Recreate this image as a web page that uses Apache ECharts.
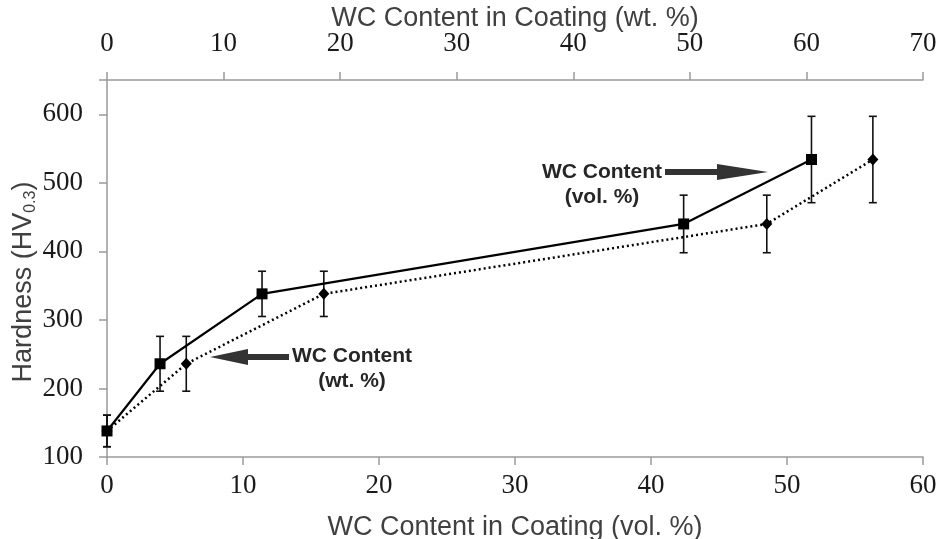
<!DOCTYPE html>
<html>
<head>
<meta charset="utf-8">
<script src="https://cdn.jsdelivr.net/npm/echarts@6/dist/echarts.min.js"></script>
<style>
  html, body { margin: 0; padding: 0; background: #fff; }
  #box1 { width: 945px; height: 539px; }
</style>
</head>
<body>
<div id="box1"></div>
<script>
// WC content of each coating, same samples on both scales
var volContent = [0, 3.9, 11.4, 42.4, 51.8];
var wtContent = [0, 6.8, 18.6, 56.6, 65.7];
var hardness = [138, 236, 338, 440, 534];
var hardnessErr = [23, 40, 33, 42, 63];

var volTicks = { min: 0, max: 60, interval: 10 };
var wtTicks = { min: 0, max: 70, interval: 10 };
var hvTicks = { min: 100, max: 650, interval: 100 };

var dom = document.getElementById("box1");
var myChart = echarts.init(dom);

var axisGray = '#9a9a9a';

function pairs(xs) {
  return xs.map(function (x, i) { return [x, hardness[i]]; });
}
function errRows(xs) {
  return xs.map(function (x, i) { return [x, hardness[i] - hardnessErr[i], hardness[i] + hardnessErr[i]]; });
}

function renderErr(params, api) {
  var lo = api.coord([api.value(0), api.value(1)]);
  var hi = api.coord([api.value(0), api.value(2)]);
  var w = 4;
  var st = { stroke: '#111', lineWidth: 1.6 };
  return {
    type: 'group',
    children: [
      { type: 'line', shape: { x1: lo[0], y1: lo[1], x2: hi[0], y2: hi[1] }, style: st },
      { type: 'line', shape: { x1: lo[0] - w, y1: lo[1], x2: lo[0] + w, y2: lo[1] }, style: st },
      { type: 'line', shape: { x1: hi[0] - w, y1: hi[1], x2: hi[0] + w, y2: hi[1] }, style: st }
    ]
  };
}

var tickLabel = {
  fontFamily: 'Liberation Serif',
  fontSize: 27,
  color: '#1a1a1a'
};
var titleStyle = {
  fontFamily: 'Liberation Sans',
  fontSize: 27,
  color: '#404040'
};

option = {
  animation: false,
  grid: { left: 107, right: 22, top: 80, bottom: 82, containLabel: false, outerBoundsMode: 'none' },
  xAxis: [
    {
      type: 'value',
      position: 'bottom',
      min: volTicks.min, max: volTicks.max, interval: volTicks.interval,
      axisLine: { lineStyle: { color: axisGray, width: 1.5 } },
      axisTick: { length: 8, lineStyle: { color: axisGray, width: 1.5 } },
      axisLabel: Object.assign({ margin: 15 }, tickLabel),
      splitLine: { show: false },
      name: 'WC Content in Coating (vol. %)',
      nameLocation: 'middle',
      nameGap: 57,
      nameMoveOverlap: false,
      nameTextStyle: titleStyle
    },
    {
      type: 'value',
      position: 'top',
      min: wtTicks.min, max: wtTicks.max, interval: wtTicks.interval,
      axisLine: { lineStyle: { color: axisGray, width: 1.5 } },
      axisTick: { length: 8, lineStyle: { color: axisGray, width: 1.5 } },
      axisLabel: Object.assign({ margin: 23 }, tickLabel),
      splitLine: { show: false },
      name: 'WC Content in Coating (wt. %)',
      nameLocation: 'middle',
      nameGap: 48,
      nameMoveOverlap: false,
      nameTextStyle: titleStyle
    }
  ],
  yAxis: {
    type: 'value',
    min: hvTicks.min, max: hvTicks.max, interval: hvTicks.interval,
    axisLine: { show: true, lineStyle: { color: axisGray, width: 1.5 } },
    axisTick: { show: true, length: 8, lineStyle: { color: axisGray, width: 1.5 } },
    axisLabel: Object.assign({ margin: 24,
      formatter: function (v) { return v > 600 ? '' : v; } }, tickLabel),
    splitLine: { show: false }
  },
  graphic: [
    {
      type: 'text', x: 24, y: 282, rotation: Math.PI / 2,
      style: {
        text: 'Hardness (HV{sub|0.3})',
        font: '27px "Liberation Sans"',
        fill: '#404040',
        align: 'center', verticalAlign: 'middle',
        rich: { sub: { fontSize: 16, fontFamily: 'Liberation Sans', fill: '#404040', padding: [13, 0, 0, 0] } }
      }
    },
    {
      type: 'text', x: 352, y: 369,
      style: {
        text: 'WC Content\n(wt. %)',
        font: 'bold 21px "Liberation Sans"',
        fill: '#262626', lineHeight: 25,
        align: 'center', verticalAlign: 'middle'
      }
    },
    {
      type: 'text', x: 602, y: 185,
      style: {
        text: 'WC Content\n(vol. %)',
        font: 'bold 21px "Liberation Sans"',
        fill: '#262626', lineHeight: 25,
        align: 'center', verticalAlign: 'middle'
      }
    },
    {
      type: 'polygon',
      shape: { points: [[210, 357], [248, 349], [248, 354], [289, 354], [289, 360], [248, 360], [248, 365]] },
      style: { fill: '#333' }
    },
    {
      type: 'polygon',
      shape: { points: [[665, 169], [717, 169], [717, 164], [768, 172], [717, 180], [717, 175], [665, 175]] },
      style: { fill: '#333' }
    }
  ],
  series: [
    {
      name: 'vol',
      type: 'line',
      xAxisIndex: 0,
      data: pairs(volContent),
      symbol: 'rect',
      symbolSize: 11,
      itemStyle: { color: '#000' },
      lineStyle: { color: '#000', width: 2.2 },
      z: 3
    },
    {
      name: 'wt',
      type: 'line',
      xAxisIndex: 1,
      data: pairs(wtContent),
      symbol: 'diamond',
      symbolSize: [11, 12],
      itemStyle: { color: '#000' },
      lineStyle: { color: '#000', width: 2.5, type: [2, 3] },
      z: 3
    },
    {
      type: 'custom',
      xAxisIndex: 0,
      renderItem: renderErr,
      data: errRows(volContent),
      z: 2
    },
    {
      type: 'custom',
      xAxisIndex: 1,
      renderItem: renderErr,
      data: errRows(wtContent),
      z: 2
    }
  ]
};

if (option && typeof option === 'object') {
  myChart.setOption(option);
}
</script>
</body>
</html>
